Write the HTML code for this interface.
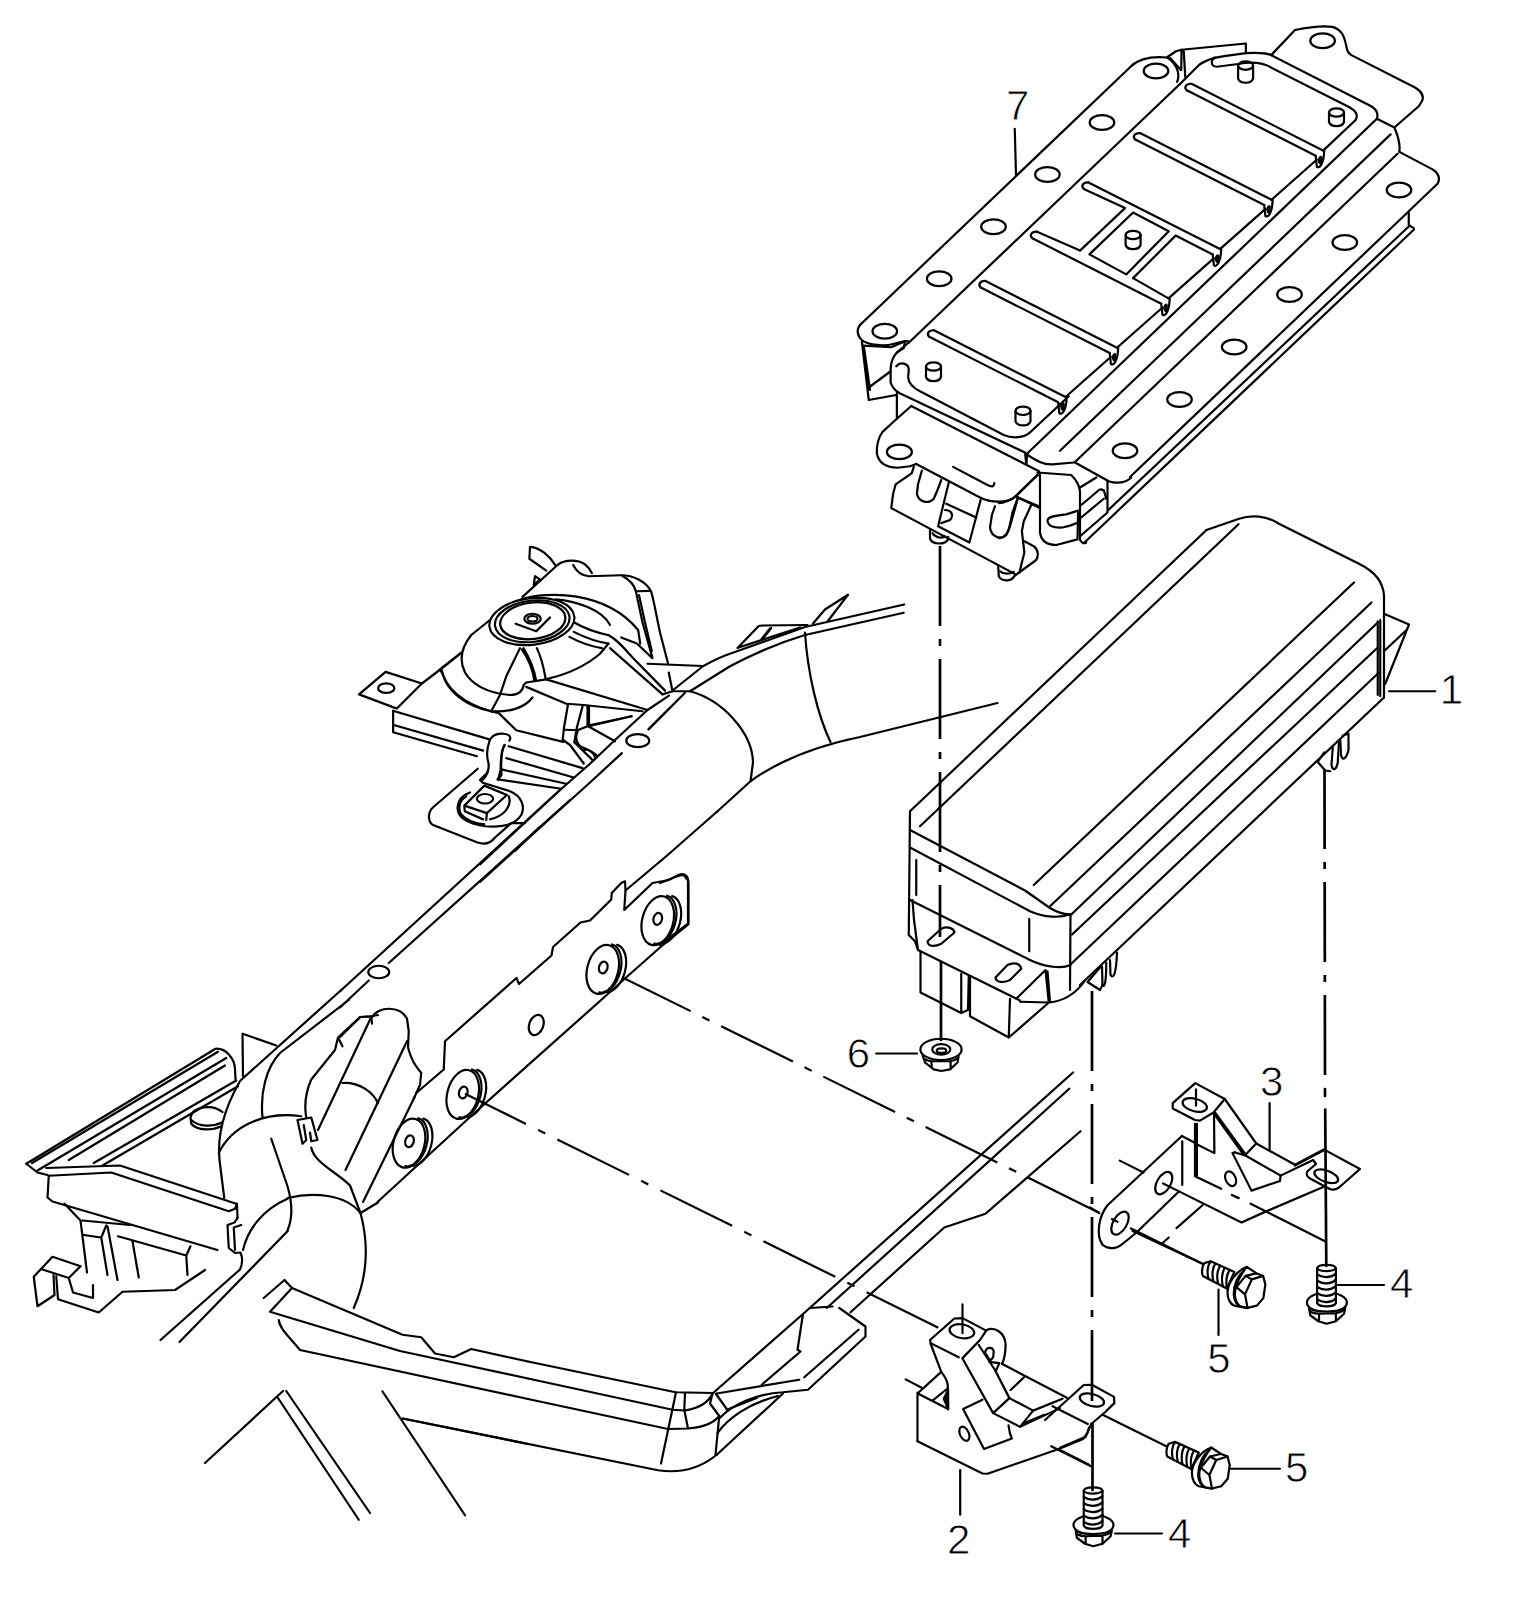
<!DOCTYPE html>
<html><head><meta charset="utf-8"><title>Diagram</title>
<style>
html,body{margin:0;padding:0;background:#fff;}
svg{display:block;}
.t path,.t ellipse,.t line,.t polyline,.t circle{fill:none;stroke:#000;stroke-width:2.2;stroke-linecap:round;stroke-linejoin:round;vector-effect:non-scaling-stroke;}
.t .w{fill:#fff;}
.t path.c{stroke-width:2.7;}
text{font-family:"Liberation Sans",sans-serif;font-size:42px;fill:#000;stroke:#fff;stroke-width:0.8px;}
</style></head><body>
<svg width="1513" height="1608" viewBox="0 0 1513 1608">
<rect width="1513" height="1608" fill="#fff"/>
<!-- 10_p7gen.svg -->
<g class="t" id="p7gen">
<path d="M1191.5,83.8 c-5.6,-0.4 -7.75,3.75 -4.7,6.5"/>
<path d="M1315.7,155.8 l1.2,11 c3.2,2 6.9,-4 7.3,-16.4"/>
<path d="M1318.7,159.8 c1.5,-4 3,-4 2.5,0 c-0.5,4 -1.5,5 -2.5,0"/>
<path d="M1191.5,83.8 L1323,150.5"/>
<path d="M1186.8,90.3 L1315.7,155.8"/>
<path d="M1316.7,159.8 L1271.5,199.8"/>
<path d="M1140,133.1 c-5.6,-0.4 -7.75,3.75 -4.7,6.5"/>
<path d="M1264.2,205.1 l1.2,11 c3.2,2 6.9,-4 7.3,-16.4"/>
<path d="M1267.2,209.1 c1.5,-4 3,-4 2.5,0 c-0.5,4 -1.5,5 -2.5,0"/>
<path d="M1140,133.1 L1271.5,199.8"/>
<path d="M1135.3,139.6 L1264.2,205.1"/>
<path d="M1265.2,209.1 L1220,249.1"/>
<path d="M1088.5,182.4 c-5.6,-0.4 -7.75,3.75 -4.7,6.5"/>
<path d="M1212.7,254.4 l1.2,11 c3.2,2 6.9,-4 7.3,-16.4"/>
<path d="M1215.7,258.4 c1.5,-4 3,-4 2.5,0 c-0.5,4 -1.5,5 -2.5,0"/>
<path d="M1088.5,182.4 L1220,249.1"/>
<path d="M1083.8,188.9 L1125,208.1 L1080,250.6"/>
<path d="M1133.1,278.1 L1175.6,235.6 L1212.7,254.4"/>
<path d="M1213.7,258.4 L1168.5,298.4"/>
<path d="M1037,231.7 c-5.6,-0.4 -7.75,3.75 -4.7,6.5"/>
<path d="M1161.2,303.7 l1.2,11 c3.2,2 6.9,-4 7.3,-16.4"/>
<path d="M1164.2,307.7 c1.5,-4 3,-4 2.5,0 c-0.5,4 -1.5,5 -2.5,0"/>
<path d="M1037,231.7 L1080,250.6"/>
<path d="M1133.1,278.1 L1168.5,298.4"/>
<path d="M1032.3,238.2 L1161.2,303.7"/>
<path d="M1162.2,307.7 L1117,347.7"/>
<path d="M985.5,281 c-5.6,-0.4 -7.75,3.75 -4.7,6.5"/>
<path d="M1109.7,353 l1.2,11 c3.2,2 6.9,-4 7.3,-16.4"/>
<path d="M1112.7,357 c1.5,-4 3,-4 2.5,0 c-0.5,4 -1.5,5 -2.5,0"/>
<path d="M985.5,281 L1117,347.7"/>
<path d="M980.8,287.5 L1109.7,353"/>
<path d="M1110.7,357 L1065.5,397"/>
<path d="M934,330.3 c-5.6,-0.4 -7.75,3.75 -4.7,6.5"/>
<path d="M1058.2,402.3 l1.2,11 c3.2,2 6.9,-4 7.3,-16.4"/>
<path d="M1061.2,406.3 c1.5,-4 3,-4 2.5,0 c-0.5,4 -1.5,5 -2.5,0"/>
<path d="M934,330.3 L1065.5,397"/>
<path d="M929.3,336.8 L1058.2,402.3"/>
<ellipse cx="1156" cy="71" rx="12.3" ry="7.4"/>
<ellipse cx="1102" cy="122.5" rx="12.3" ry="7.4"/>
<ellipse cx="1047.4" cy="174.5" rx="12.3" ry="7.4"/>
<ellipse cx="993.5" cy="226.8" rx="12.3" ry="7.4"/>
<ellipse cx="939.2" cy="278.8" rx="12.3" ry="7.4"/>
<ellipse cx="884.8" cy="331.2" rx="12.3" ry="7.4"/>
<ellipse cx="1399" cy="190" rx="12.3" ry="7.4"/>
<ellipse cx="1344.8" cy="242.5" rx="12.3" ry="7.4"/>
<ellipse cx="1289.5" cy="294.5" rx="12.3" ry="7.4"/>
<ellipse cx="1234.2" cy="347" rx="12.3" ry="7.4"/>
<ellipse cx="1179.5" cy="399.5" rx="12.3" ry="7.4"/>
<ellipse cx="1125" cy="450.8" rx="12.3" ry="7.4"/>
<ellipse cx="1322.6" cy="40.7" rx="12.3" ry="7.4"/>
<path d="M1134,63.5 L860,325"/>
<path d="M1180.2,83.8 L909,342.5"/>
<path d="M1376.9,118.8 L1027.5,453.2"/>
<path d="M1390.6,134.4 L1060,450.8"/>
<path d="M1397.5,153.8 L1075,462"/>
<path d="M1408.8,211.2 L1130,477"/>
<path d="M1409,226.2 L1107.5,510.8"/>
<path d="M1414,229.5 L1085,542"/>
<ellipse cx="1245.6" cy="65.6" rx="7.5" ry="4.2"/>
<path d="M1238.1,65.6 v13 c2,5.5 13,5.5 15,0 v-13"/>
<ellipse cx="1336.5" cy="112.5" rx="7.5" ry="4.2"/>
<path d="M1329,112.5 v9.5 c2,5.5 13,5.5 15,0 v-9.5"/>
<ellipse cx="1133.1" cy="235" rx="7.5" ry="4.2"/>
<path d="M1125.6,235 v10 c2,5.5 13,5.5 15,0 v-10"/>
<ellipse cx="933.5" cy="366.5" rx="7.5" ry="4.2"/>
<path d="M926,366.5 v10.5 c2,5.5 13,5.5 15,0 v-10.5"/>
<ellipse cx="1023" cy="410.8" rx="7.5" ry="4.2"/>
<path d="M1015.5,410.8 v10.5 c2,5.5 13,5.5 15,0 v-10.5"/>
<path d="M1133.1,212.5 L1168.75,231.25 L1126.25,274.4 L1089.4,254.4 Z"/>
</g>

<!-- 11_p7top.svg -->
<g class="t" id="p7a" transform="translate(1134,20) scale(.125)">
<path d="M-20,368 C50,300 150,290 265,300 C330,340 375,420 345,495"/>
<path d="M265,298 L335,250 L380,238 L895,188 L895,265"/>
<path d="M380,238 L378,400 M398,250 L410,455"/>
<path d="M290,305 L375,400"/>
<path d="M370,510 L520,360 C600,300 700,290 895,265 C1000,258 1070,265 1110,285"/>
<path d="M645,300 C612,325 615,372 660,374 L835,352 C950,330 1040,350 1090,375"/>
</g>
<g class="t" id="p7c" transform="translate(1260,20) scale(.125)">
<path d="M95,275 L280,80 C400,55 500,42 580,55 C660,80 675,130 695,230 C700,260 715,272 735,283 L1240,540 C1290,570 1315,610 1295,650 L1270,690 L1075,860"/>
<path d="M82,277 L890,690 C940,720 948,750 935,790 L1075,860 C1110,940 1122,1000 1115,1055"/>
<path d="M82,377 L700,690 C760,720 790,755 765,800 L505,1045"/>
<path d="M1115,1055 L1380,1195 C1430,1225 1445,1270 1420,1310 L1190,1530 L1190,1640 L1230,1665"/>
</g>

<!-- 12_p7front.svg -->
<g class="t" id="p7e" transform="translate(850,310) scale(.125)">
<path d="M85,115 C50,150 55,205 95,240 C150,285 280,290 345,272 L440,248 L470,250"/>
<path d="M100,285 L330,298 L440,250 L430,305 L375,340"/>
<path d="M470,260 L375,340 C330,390 325,450 325,480 L325,580 C340,630 365,648 398,666 L1400,1140 L1410,1230"/>
<path d="M490,768 L1512,1290"/>
<path d="M95,250 L150,720 L370,680 M150,620 L325,490 M112,300 L160,640"/>
<path d="M375,660 L375,870 L490,768"/>
<path d="M375,870 L260,975 C225,1020 210,1100 215,1150 C230,1220 290,1260 380,1262 L480,1250 L530,1232"/>
<ellipse cx="395" cy="1135" rx="100" ry="58"/>
<path d="M370,450 C400,415 470,420 470,480 L465,540 C470,600 520,630 560,650 L1230,1000 C1300,1030 1400,1025 1450,970 L1750,690"/>
</g>
<g class="t" id="p7f" transform="translate(870,440) scale(.125)">
<path d="M370,192 L880,460 C960,500 1100,510 1160,455 L1345,275"/>
<path d="M665,215 L940,360 C980,380 992,370 995,345"/>
<path d="M350,215 L335,265 L205,355 L185,430 L170,545 L1165,1075"/>
<path d="M415,245 L385,350 L375,430 C390,500 470,515 510,470 L540,400 L570,320"/>
<path d="M630,340 L545,690 L795,820 L885,480 M610,510 L850,620"/>
<path d="M600,560 C650,560 675,600 640,640 L570,665"/>
<path d="M1000,530 L975,600 L960,700 C970,780 1050,800 1090,760 L1120,690 L1185,460 L1350,530"/>
<path d="M1290,520 L1230,650 L1215,730 L1235,900 L1195,1060"/>
<path d="M1235,810 L1310,850 C1350,880 1348,930 1330,960 L1165,1080"/>
<path d="M480,720 L480,790 C500,840 600,840 625,795 L625,775"/>
<path d="M500,745 C530,790 580,785 600,770"/>
<path d="M1025,1000 L1030,1090 C1060,1140 1140,1130 1160,1080"/>
<path d="M1040,1050 C1070,1078 1120,1072 1150,1055"/>
</g>
<g class="t" id="p7g" transform="translate(1000,400) scale(.125)">
<path d="M218,426 L210,520"/>
<path d="M220,440 C300,490 350,520 420,515 L590,500"/>
<path d="M600,500 L870,650 C930,672 1010,662 1050,620"/>
<path d="M860,650 L860,890"/>
<path d="M640,1120 C660,1150 675,1150 690,1140"/>
<path d="M300,580 L570,600 C610,640 635,680 640,730 L640,1110"/>
<path d="M320,590 L320,1060 C330,1130 380,1160 450,1160 L620,1115 L625,900"/>
<path d="M380,960 C390,930 450,925 530,915 L625,885 M380,960 C380,1010 430,1025 500,1020 L560,1005 L625,980"/>
<path d="M640,700 L770,620 M650,840 L780,730 C810,700 840,715 850,790 M830,720 L850,790 M650,940 L830,790 M640,1090 L860,900"/>
<path d="M300,600 L125,770 C60,820 20,825 -10,825"/>
<path d="M125,770 L310,860"/>
<path d="M140,790 L100,900 L70,1040 C50,1090 20,1105 -10,1105"/>
</g>

<!-- 20_p1.svg -->
<g class="t" id="p1long">
<path d="M1206.5,530 L910,811.25"/>
<path d="M1238.5,524.25 L920,826.25"/>
<path d="M1354,582.5 L1033.75,885"/>
<path d="M1371.5,602.5 L1050,906.25"/>
<path d="M1377.75,622.5 L1071.25,914.5"/>
<path d="M1377.75,647.5 L1072,934.5"/>
<path d="M1379,672.5 L1071.25,963.75"/>
<path d="M1384,697.5 L1080,985"/>
</g>
<g class="t" id="p1h" transform="translate(1134,500) scale(.25)">
<path d="M290,120 L420,75 C470,58 530,62 580,95 L900,255 C970,290 995,330 1000,380 L1000,790"/>
<path d="M975,485 L975,780 M985,480 L985,785"/>
<path d="M1000,455 L1100,498 L1005,735 M1005,600 L1090,520"/>
<path d="M1020,765 L1205,765"/>
<path d="M760,1010 L735,1048 L765,1082 L785,1085"/>
<path d="M795,990 L790,1060 C795,1088 810,1078 815,1050 L820,965"/>
<path d="M825,960 L828,1020 C835,1048 850,1032 858,1000 L858,935 L835,942"/>
</g>
<g class="t" id="p1i" transform="translate(890,700) scale(.25)">
<path d="M80,445 L75,940 L100,965 L112,1000"/>
<path d="M80,520 L540,762 L640,832 C670,850 700,858 722,857"/>
<path d="M80,590 L560,845 C620,872 680,872 722,857"/>
<path d="M80,800 L560,1040 C620,1070 690,1075 722,1060"/>
<path d="M722,857 L720,1160"/>
<path d="M105,640 L105,780 M557,875 L557,1005"/>
<path d="M90,800 L96,880 L112,1000"/>
<path d="M150,965 L205,915 C230,903 255,913 258,930 L205,975 C180,988 152,988 150,965 Z"/>
<path d="M422,1110 L470,1060 C495,1048 520,1053 525,1075 L480,1120 C455,1132 424,1132 422,1110 Z"/>
<path d="M112,1000 L520,1202"/>
<path d="M122,1005 L122,1170 L285,1252 L285,1095 M285,1252 L312,1240 L315,1105"/>
<path d="M320,1110 L320,1265 L475,1350 L480,1195 M475,1350 L630,1215"/>
<path d="M520,1207 L635,1210 L622,1080 L505,1195 M630,1085 L640,1208"/>
<path d="M635,1210 C690,1205 740,1180 780,1122"/>
<path d="M840,1070 L790,1128 L840,1160 L850,1140"/>
<path d="M848,1065 L850,1140 C858,1152 865,1135 865,1050"/>
<path d="M880,1040 L882,1100 C893,1118 905,1098 908,1010"/>
</g>

<!-- 30_mount.svg -->
<g class="t" id="fk" transform="translate(440,535) scale(.125)">
<path d="M850,285 L715,190 L720,95 C800,100 880,170 925,245"/>
<path d="M760,330 L750,400 L800,355 Z"/>
<path d="M660,495 L940,240 C1000,195 1100,195 1160,235 C1190,260 1205,280 1215,305"/>
<path d="M1065,240 C1090,290 1130,325 1190,330 L1450,322"/>
<ellipse cx="735" cy="692" rx="342" ry="186" transform="rotate(-7 735 692)"/>
<ellipse cx="738" cy="690" rx="300" ry="165" transform="rotate(-7 738 690)"/>
<ellipse cx="742" cy="686" rx="262" ry="146" transform="rotate(-7 742 686)"/>
<ellipse cx="740" cy="670" rx="66" ry="40"/>
<ellipse cx="740" cy="670" rx="40" ry="22"/>
<path d="M605,710 L770,770 L880,660"/>
<path d="M650,515 C850,450 1320,440 1585,760 L1602,870"/>
<path d="M925,515 C1100,530 1300,600 1360,720"/>
<path d="M1075,700 C1150,745 1250,780 1350,802"/>
<path d="M1070,775 C1150,815 1250,855 1348,868"/>
<path d="M1035,815 C1120,860 1230,895 1295,905"/>
<path d="M1348,868 L1280,950 C1150,1060 1000,1120 850,1152"/>
<path d="M400,680 L250,800 C170,900 150,1000 200,1100 C260,1200 380,1250 480,1270 L560,1280 C620,1280 660,1250 670,1200 L690,1180 L850,1155"/>
<path d="M170,940 L0,1075 L20,1110 C60,1250 200,1370 410,1410"/>
<path d="M410,1410 L480,1280 L530,1130 L640,905"/>
<path d="M410,1410 C560,1420 680,1380 740,1300"/>
<path d="M410,1410 L470,1425 L610,1562 L985,1655"/>
<path d="M655,915 C700,980 740,1060 755,1165 M668,905 C712,980 752,1060 768,1160"/>
<path d="M775,905 C810,980 830,1060 845,1150"/>
<path d="M850,1155 L1660,1400"/>
<path d="M690,1215 L1010,1350 L1150,1360 L1620,1410"/>
<path d="M1025,1350 L992,1540 L982,1635"/>
<path d="M1142,1365 L1095,1540 L1075,1655"/>
<path d="M1180,1370 L1180,1525 M1192,1370 L1192,1530"/>
</g>
<g class="t" id="fl" transform="translate(580,535) scale(.125)">
<path d="M330,322 C420,322 530,370 570,455 C590,520 610,640 640,780 L705,1030"/>
<path d="M340,328 C400,360 435,400 447,450 L500,700 L580,985"/>
<path d="M447,450 L565,447 M472,480 L520,700 L575,930"/>
<path d="M330,820 L455,868 L575,982"/>
<path d="M230,802 C300,840 350,900 420,980 L680,1245"/>
<path d="M240,905 L660,1275"/>
<path d="M540,1030 L980,1048"/>
<path d="M710,1100 L740,1250"/>
<path d="M660,1275 L740,1250 L880,1250"/>
<path d="M840,1262 L548,1555"/>
<path d="M70,1530 L410,1450"/>
</g>
<g class="t" id="fm" transform="translate(480,690) scale(.125)">
<path d="M1512,45 L1340,160 L1080,400 L880,590 L640,800 L0,1395"/>
<path d="M1512,150 L1350,312"/>
<path d="M1135,505 L880,740 L0,1535"/>
<ellipse cx="1262" cy="405" rx="92" ry="52"/>
<path d="M865,285 L1215,210 M865,290 L1080,410 M680,318 L780,322 L865,288"/>
<path d="M662,398 L720,440 L830,588 M755,418 L905,565"/>
<path d="M780,335 C760,380 770,420 800,450 C850,470 900,490 935,525"/>
<path d="M830,480 C870,470 910,500 920,540"/>
<path d="M230,450 L820,625 M210,545 L750,700 M170,635 L690,750 M140,715 L650,790"/>
<path d="M195,440 C170,480 165,560 165,640 L145,715"/>
<path d="M235,405 C255,375 230,352 190,350 C130,345 90,370 75,410 C55,470 50,520 65,570 C80,630 55,690 20,720"/>
</g>
<g class="t" id="fn" transform="translate(350,650) scale(.125)">
<path d="M365,465 L72,355 L285,175 L575,268"/>
<ellipse cx="290" cy="305" rx="65" ry="38"/>
<path d="M375,468 L575,268 L730,150 L895,20"/>
<path d="M345,485 L345,658 L1015,850 M350,488 L1115,715 M350,600 L1065,805"/>
<path d="M732,155 C760,300 900,430 1135,492"/>
<path d="M1022,950 L665,1258 C620,1300 622,1368 660,1398 L1020,1540 C1080,1560 1130,1540 1160,1500 L1290,1385 L1400,1385"/>
<path d="M1238,762 C1212,800 1205,880 1212,1000 L1185,1035"/>
<path d="M1105,960 C1100,985 1085,998 1075,1005 L1040,1040 L1062,1062 L1280,1130 C1380,1170 1400,1260 1370,1320 C1320,1400 1200,1420 1080,1410 C950,1390 860,1340 860,1260 C865,1200 900,1160 960,1140"/>
<path d="M930,1170 C875,1200 860,1270 890,1315 C940,1370 1020,1390 1075,1395"/>
<path d="M1270,1170 C1300,1250 1230,1330 1120,1355"/>
<path d="M1075,1085 L1255,1160 L1095,1305 L915,1245 Z"/>
<path d="M1095,1305 L1090,1360 M915,1250 L918,1290 L1065,1355"/>
<ellipse cx="1080" cy="1190" rx="65" ry="38"/>
<path d="M1512,1420 L1320,1608"/>
</g>

<!-- 31_frame.svg -->
<g class="t" id="fo" transform="translate(660,560) scale(.25)">
<path d="M50,522 L172,425 C220,398 250,385 280,375 L580,268 L977,178"/>
<path d="M120,525 L280,425 C380,372 480,330 580,300 L975,211"/>
<path d="M310,352 L395,264 L410,262 L590,260 M315,350 L560,270 M445,272 L410,316 M440,274 L405,318"/>
<path d="M612,254 L660,198 L752,139 L670,246"/>
<path d="M120,525 C250,560 370,690 372,810 L362,885"/>
<path d="M580,290 C590,450 630,620 682,728"/>
<path d="M228,1007 L362,885 C480,800 620,745 800,708 L1350,572"/>
<path d="M0,1292 C40,1280 60,1262 95,1260 L112,1282 L112,1455 L0,1540"/>
</g>
<g class="t" id="fp" transform="translate(340,800) scale(.25)">
<path d="M880,-40 L0,765"/>
<path d="M920,0 L195,652 M0,830 L115,722"/>
<ellipse cx="155" cy="688" rx="42" ry="25"/>
<path d="M1510,45 L1305,225 L1142,362 L1140,325 L1125,332 L1087,372 L1085,398 L1000,482 L962,490 L852,588 L846,622 L716,736 L706,712 L690,726 L420,965 L415,1078 L305,1172"/>
<path d="M1142,362 L1137,440 L1250,332 L1315,320 C1335,312 1345,300 1362,297 C1385,295 1394,310 1394,330 L1394,497 L1280,590 L1150,705 L1040,804 L540,1250 L150,1608"/>
<g transform="rotate(15 1280 480)"><ellipse cx="1272" cy="485" rx="62" ry="100"/><path d="M1282,379 A60,99 0 0 1 1282,577"/><path d="M1302,375 A58,97 0 0 1 1302,569"/><ellipse cx="1270" cy="478" rx="17" ry="24"/></g>
<g transform="rotate(15 1060 675)"><ellipse cx="1052" cy="680" rx="62" ry="100"/><path d="M1062,574 A60,99 0 0 1 1062,772"/><path d="M1082,570 A58,97 0 0 1 1082,764"/><ellipse cx="1052" cy="672" rx="17" ry="24"/></g>
<g transform="rotate(15 500 1175)"><ellipse cx="492" cy="1180" rx="62" ry="100"/><path d="M502,1074 A60,99 0 0 1 502,1272"/><path d="M522,1070 A58,97 0 0 1 522,1264"/><ellipse cx="492" cy="1172" rx="17" ry="24"/></g>
<g transform="rotate(15 285 1370)"><ellipse cx="277" cy="1375" rx="62" ry="100"/><path d="M287,1269 A60,99 0 0 1 287,1467"/><path d="M307,1265 A58,97 0 0 1 307,1459"/><ellipse cx="277" cy="1367" rx="17" ry="24"/></g>
<ellipse cx="785" cy="900" rx="28" ry="42" transform="rotate(20 785 900)"/>
<path d="M128,870 C150,825 240,820 268,875 L275,925 L272,990 C285,1040 300,1060 325,1092 L320,1140 L295,1195"/>
<path d="M0,948 L82,868 L125,866 L128,895"/>
<path d="M268,965 L22,1480 M300,1185 L92,1608"/>
</g>
<g class="t" id="fq" transform="translate(0,1000) scale(.25)">
<path d="M105,655 L862,195 C905,192 938,235 940,275 L942,318"/>
<path d="M128,652 L872,207 M150,682 L905,232 M275,640 L900,262 M375,652 L945,322 M410,662 L952,345"/>
<path d="M105,655 L150,690 L190,700"/>
<path d="M185,672 L480,662 L945,815"/>
<path d="M195,703 L445,690 L915,845 L940,835 L948,815 L950,872"/>
<path d="M195,703 L190,790 L210,806 L870,1000"/>
<path d="M762,470 C770,425 850,415 890,448 M762,470 L765,495 C790,525 850,522 885,505 M768,482 C795,508 850,508 888,490"/>
<path d="M258,815 L322,882 L348,1090 M330,882 L520,900 M335,940 L405,950 L425,902 M405,950 L430,1100 M430,905 L470,1120 M472,945 L745,1022 L762,985 M530,965 L555,1110 M745,1022 L750,1100"/>
<path d="M322,1065 L210,1027 L135,1107 L150,1225 L218,1180 L214,1100"/>
<path d="M170,1078 L275,1112 L322,1065 M275,1112 L292,1170 L372,1192 L372,1140"/>
<path d="M225,1105 L232,1197 L395,1250 L490,1167 L700,1160 L820,1080"/>
<path d="M1365,-40 L962,322"/>
<path d="M1395,0 L1120,212 C1065,270 1040,370 1050,468"/>
<path d="M1105,182 L970,135 L972,305"/>
<path d="M958,328 C900,430 868,540 878,640 L897,792"/>
<path d="M875,612 C930,500 1060,445 1205,465"/>
<path d="M1190,480 L1245,470 L1270,560 L1245,565 L1240,530 M1190,480 L1210,575 L1225,560 L1215,500"/>
<path d="M1085,555 L1150,745 C1172,820 1168,880 1150,922"/>
<path d="M1150,792 C1250,768 1380,775 1442,852"/>
<path d="M1150,795 C1050,838 990,920 972,1000"/>
<path d="M1245,590 C1255,650 1350,690 1400,742 L1442,852 C1482,1000 1460,1130 1415,1232"/>
<path d="M1442,852 L1512,810"/>
<path d="M1512,60 L1485,65 L1440,68 L1352,150 L1340,200 L1245,318 C1220,375 1218,430 1225,470 M1352,150 L1370,185"/>
<path d="M1485,68 L1272,520"/>
<path d="M1370,332 C1440,328 1492,370 1512,412"/>
<path d="M950,872 L938,890 L910,900 L915,992 L940,1012 L962,1010 C975,1040 968,1060 960,1078 L642,1360"/>
<path d="M935,910 L940,1000 M935,910 L965,900"/>
<path d="M718,1368 L1150,925"/>
<path d="M1055,1192 L1138,1120 L1168,1152 L1610,1339 L1685,1349 L1740,1414 L1815,1429 L1885,1396 L2112,1446"/>
<path d="M1168,1152 L1080,1247 L1600,1404 L2112,1514"/>
<path d="M1115,1280 C1120,1320 1165,1355 1200,1400 L2112,1596"/>
</g>
<g class="t" id="fr" transform="translate(150,1206) scale(.25)">
<path d="M220,1028 L532,740 M512,768 L835,1255 M545,740 L880,1228 M930,742 L1260,1237 M1010,850 L1512,952"/>
</g>
<g class="t" id="fs" transform="translate(528,1206) scale(.25)">
<path d="M0,622 L590,745 L738,748"/>
<path d="M0,690 L578,815 L625,818 C680,810 720,790 738,750"/>
<path d="M0,772 L560,892 L640,890 C700,885 745,865 765,840"/>
<path d="M-500,850 L520,1057 C620,1072 700,1040 755,995"/>
<path d="M592,745 L532,1030 M628,748 L625,815 L640,890"/>
<path d="M738,750 L728,790 L765,840 L750,995 M752,752 L795,812"/>
<path d="M1100,432 L1078,575 L1090,582 L935,715"/>
<path d="M755,750 L1085,695 M795,815 L915,768"/>
<path d="M765,850 C820,790 920,750 1020,745 L1120,735 L1350,522 L1350,482 L1245,408"/>
<path d="M758,908 C800,850 880,790 1000,760"/>
<path d="M755,995 L1020,750 M1105,685 L1322,495"/>
<path d="M1130,408 L1218,402"/>
</g>
<g class="t" id="fu">
<path d="M712.5,1393.5 L803,1314 L1073,1072.5"/>
<path d="M826.75,1308 L1069.25,1088.75"/>
<path d="M850.5,1312.25 L944.25,1227.5 L985.5,1213.75 L1080.5,1131.25"/>
</g>

<!-- 40_brackets.svg -->
<g class="t" id="b2u" transform="translate(900,1290) scale(.125)">
<path d="M240,400 L435,228 L500,225 L690,325 L640,400 L500,545"/>
<path d="M242,400 L245,430 M245,425 L470,538"/>
<ellipse cx="495" cy="330" rx="100" ry="55" transform="rotate(10 495 330)"/>
<path d="M500,115 L500,345"/>
<path d="M245,430 L330,655 C365,700 380,730 382,760 L385,955"/>
<path d="M140,828 L330,655 M140,820 L140,1210 M45,715 L170,780"/>
<path d="M150,832 L385,952 M260,885 L378,790"/>
<path d="M350,870 L385,950 L385,800 Z" style="fill:#000"/>
<path d="M140,1210 L660,1468 L700,1470 L1270,1272 L1465,1192 L1500,1140 L1512,1100"/>
<path d="M500,548 L745,985 L960,1095 L1065,965 L875,865 L745,985"/>
<path d="M630,440 L760,640 L875,865"/>
<path d="M1065,965 L1300,870 M960,1095 L1280,945 M1000,1062 L1150,1000"/>
<path d="M815,590 L1335,862 M990,700 L885,800"/>
<path d="M690,322 C760,290 835,340 845,430 C845,500 835,550 818,590"/>
<path d="M680,500 C690,455 740,450 750,490 L745,540 L720,565 Z"/>
<path d="M715,575 L795,585 L770,640"/>
<path d="M660,878 L505,952 L672,1272 L895,1188 L880,1150 L868,1082"/>
<ellipse cx="515" cy="1150" rx="35" ry="60" transform="rotate(-25 515 1150)"/>
<path d="M1272,1275 L1512,1398"/>
</g>
<g class="t" id="b2v" transform="translate(1060,1380) scale(.125)">
<path d="M-120,320 L190,40 L255,38 L432,135 L435,185 L360,258 L250,352 M-60,210 L222,352"/>
<ellipse cx="255" cy="160" rx="100" ry="48" transform="rotate(15 255 160)"/>
<path d="M250,352 L205,455 L0,542 M-70,530 L252,692"/>
<path d="M345,280 L850,530"/>
</g>
<g class="t" id="b3w" transform="translate(1090,1060) scale(.125)">
<path d="M662,345 L842,185 L1078,312 L988,420 L880,485 L840,480 L662,388 Z"/>
<ellipse cx="838" cy="360" rx="100" ry="50" transform="rotate(15 838 360)"/>
<path d="M848,235 L848,365"/>
<path d="M1078,312 L1330,668 L1640,838"/>
<path d="M988,425 L1232,762 M1000,420 L1240,750"/>
<path d="M1330,668 L1240,762 L1525,925"/>
<path d="M840,510 L840,930 L1050,1030 M855,510 L855,925"/>
<path d="M992,430 L995,745 L850,672"/>
<path d="M735,608 L850,668 M738,650 L738,1000"/>
<path d="M735,608 L140,1162 C70,1250 45,1400 100,1478 C150,1522 220,1508 262,1470 L372,1380 L705,1058"/>
<ellipse cx="590" cy="985" rx="55" ry="98" transform="rotate(30 590 985)"/>
<ellipse cx="240" cy="1305" rx="55" ry="102" transform="rotate(30 240 1305)"/>
<path d="M585,988 L700,1045 L1212,1300 L1400,1215 L1880,1010"/>
<path d="M900,1162 L692,1345"/>
<path d="M340,1368 L905,1632"/>
<path d="M630,1420 L575,1470"/>
<path d="M1160,738 L1140,745 L1292,1045 L1520,968 L1525,925"/>
<path d="M1160,740 L1230,760"/>
<ellipse cx="1125" cy="950" rx="40" ry="62" transform="rotate(-25 1125 950)"/>
<path d="M1135,1080 L1190,1105"/>
<path d="M1285,1150 L1880,1450"/>
<path d="M238,805 L428,900 M0,1180 L75,1225"/>
</g>
<g class="t" id="b3x" transform="translate(1230,1060) scale(.125)">
<path d="M405,925 L665,800 L688,832 L622,888 C605,905 612,930 640,948 L790,1028 C815,1042 845,1040 872,1020 L1040,872 L750,715 L520,838"/>
<path d="M520,845 L750,722"/>
<ellipse cx="770" cy="930" rx="100" ry="45" transform="rotate(20 770 930)"/>
</g>

<!-- 50_bolts.svg -->
<g class="t" id="bolt5a" transform="translate(1060,1380) scale(.125)">
<path class="w" d="M870,510 L920,495 L1110,580 L1050,712 L858,612 C848,590 848,540 870,510 Z"/>
<path d="M920,497 C895,530 888,590 905,637 M958,514 C935,545 928,605 943,656 M996,531 C973,565 966,625 981,676 M1034,548 C1011,582 1004,645 1019,696 M1072,565 C1049,600 1042,660 1050,712"/>
<path class="w" d="M1210,540 C1130,570 1060,660 1055,740 C1055,800 1080,840 1110,850 L1215,870 Z"/>
<path d="M1200,560 C1140,600 1105,680 1105,760 C1108,810 1130,845 1165,858"/>
<path class="w" d="M1210,540 L1285,590 L1340,612 L1358,680 L1342,790 L1290,850 L1215,868 L1165,858 C1120,840 1100,760 1125,700 C1140,640 1170,590 1210,540 Z"/>
<path d="M1200,612 L1250,640 L1340,612 M1250,640 L1195,760 L1215,865 M1200,612 L1128,700 M1125,700 L1195,760 M1200,612 L1285,592"/>
</g>
<g class="t" id="bolt5b" transform="translate(1095.6,1199.4) scale(.125)">
<path class="w" d="M870,510 L920,495 L1110,580 L1050,712 L858,612 C848,590 848,540 870,510 Z"/>
<path d="M920,497 C895,530 888,590 905,637 M958,514 C935,545 928,605 943,656 M996,531 C973,565 966,625 981,676 M1034,548 C1011,582 1004,645 1019,696 M1072,565 C1049,600 1042,660 1050,712"/>
<path class="w" d="M1210,540 C1130,570 1060,660 1055,740 C1055,800 1080,840 1110,850 L1215,870 Z"/>
<path d="M1200,560 C1140,600 1105,680 1105,760 C1108,810 1130,845 1165,858"/>
<path class="w" d="M1210,540 L1285,590 L1340,612 L1358,680 L1342,790 L1290,850 L1215,868 L1165,858 C1120,840 1100,760 1125,700 C1140,640 1170,590 1210,540 Z"/>
<path d="M1200,612 L1250,640 L1340,612 M1250,640 L1195,760 L1215,865 M1200,612 L1128,700 M1125,700 L1195,760 M1200,612 L1285,592"/>
</g>
<g class="t" id="bolt4a" transform="translate(1060,1380) scale(.125)">
<ellipse class="w" cx="268" cy="1160" rx="160" ry="80"/>
<path class="w" d="M125,1200 L135,1262 L200,1310 L265,1330 L340,1310 L405,1250 L415,1200 C380,1240 160,1245 125,1200 Z"/>
<path d="M205,1250 L205,1310 M340,1245 L340,1308 M135,1235 C160,1245 190,1250 205,1250 L340,1245 C370,1240 395,1230 410,1218"/>
<path class="w" d="M190,885 C200,850 330,850 340,885 L340,1165 C320,1200 210,1200 190,1165 Z"/>
<path d="M190,935 C230,965 300,965 340,927 M190,985 C230,1015 300,1015 340,977 M190,1035 C230,1065 300,1065 340,1027 M190,1085 C230,1115 300,1115 340,1077 M190,1135 C230,1165 300,1165 340,1127 M190,890 C220,915 310,915 340,888"/>
</g>
<g class="t" id="bolt4b" transform="translate(1293.4,1157.5) scale(.125)">
<ellipse class="w" cx="268" cy="1160" rx="160" ry="80"/>
<path class="w" d="M125,1200 L135,1262 L200,1310 L265,1330 L340,1310 L405,1250 L415,1200 C380,1240 160,1245 125,1200 Z"/>
<path d="M205,1250 L205,1310 M340,1245 L340,1308 M135,1235 C160,1245 190,1250 205,1250 L340,1245 C370,1240 395,1230 410,1218"/>
<path class="w" d="M190,885 C200,850 330,850 340,885 L340,1165 C320,1200 210,1200 190,1165 Z"/>
<path d="M190,935 C230,965 300,965 340,927 M190,985 C230,1015 300,1015 340,977 M190,1035 C230,1065 300,1065 340,1027 M190,1085 C230,1115 300,1115 340,1077 M190,1135 C230,1165 300,1165 340,1127 M190,890 C220,915 310,915 340,888"/>
</g>
<g class="t" id="nut6" transform="translate(820,1000) scale(.125)">
<path class="w" d="M820,440 L840,500 L910,555 L970,568 L1040,555 L1100,500 L1110,440 Z"/>
<path d="M890,490 L895,545 M1045,490 L1045,548 M830,470 C850,482 870,488 890,490 L1045,490 C1070,485 1090,475 1105,465"/>
<ellipse class="w" cx="968" cy="395" rx="165" ry="85"/>
<ellipse cx="970" cy="395" rx="72" ry="42"/>
<ellipse cx="972" cy="405" rx="38" ry="18"/>
</g>

<!-- 60_labels.svg -->
<g class="t" id="leaders">
<path d="M1014.75,128.75 L1016,175"/>
<path d="M876.25,1053.5 L917,1053.5"/>
<path d="M1269.6,1103 L1269.6,1150"/>
<path d="M960.2,1470 L960.2,1514.75"/>
<path d="M1115,1533.5 L1162,1533.5"/>
<path d="M1337,1285 L1384,1285"/>
<path d="M1218.5,1289.5 L1218.5,1335"/>
<path d="M1231,1468.75 L1280,1468.75"/>
<path d="M940,546 L940,937" class="c" stroke-dasharray="80 13 7 13" style="stroke-linecap:butt"/>
<path d="M941,962.5 L941,1040" class="c"/>
<path d="M1092,991 L1092,1401" class="c" stroke-dasharray="80 13 7 13" style="stroke-linecap:butt"/>
<path d="M1092.5,1423.5 L1092.5,1490" class="c"/>
<path d="M1324.5,769 L1325,1078" class="c" stroke-dasharray="80 13 7 13" style="stroke-linecap:butt"/>
<path d="M1325,1089 L1325,1096 M1325.2,1109.5 L1326.3,1266" class="c"/>
<path d="M622.5,977.5 L1203,1264" stroke-dasharray="80 13 8 13" stroke-dashoffset="4" style="stroke-linecap:butt"/>
<path d="M465,1093.75 L938.75,1328" stroke-dasharray="80 13.5 8 13.5" stroke-dashoffset="12" style="stroke-linecap:butt"/>
</g>
<g id="labels" font-size="42.5" text-anchor="middle">
<text x="1017.75" y="120">7</text>
<text x="1451.5" y="704">1</text>
<text x="858.4" y="1067.5">6</text>
<text x="1271.75" y="1096.25">3</text>
<text x="958.75" y="1553.5">2</text>
<text x="1179.75" y="1547.5">4</text>
<text x="1401.75" y="1298">4</text>
<text x="1219" y="1373">5</text>
<text x="1296.75" y="1482">5</text>
</g>

</svg>
</body></html>
